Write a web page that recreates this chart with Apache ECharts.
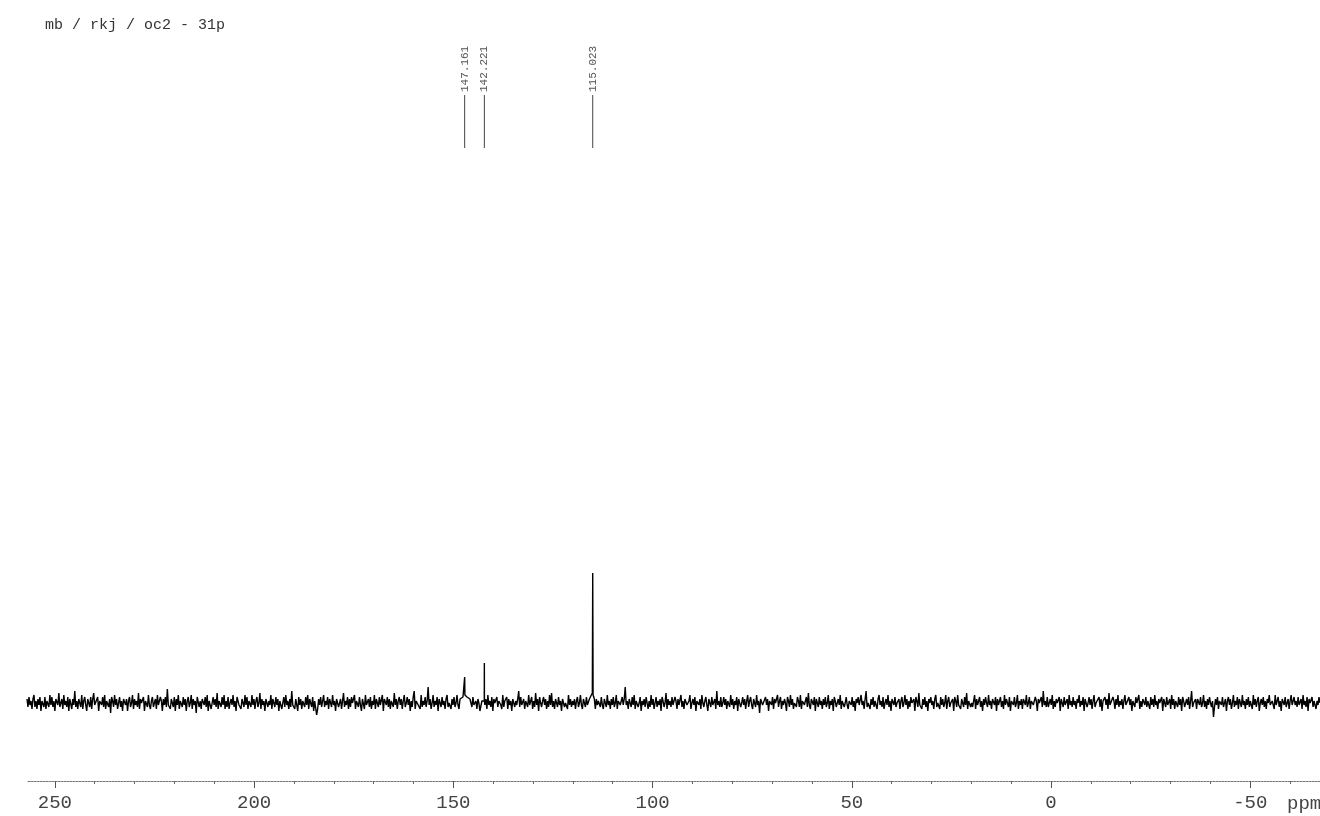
<!DOCTYPE html>
<html>
<head>
<meta charset="utf-8">
<script src="https://cdn.jsdelivr.net/npm/echarts@6/dist/echarts.min.js"></script>
<style>
html,body{margin:0;padding:0;background:#fff;}
#chart{width:1320px;height:816px;}
</style>
</head>
<body>
<div id="chart"></div>
<script>
// ---- data ----
const titleText = 'mb / rkj / oc2 - 31p';
const unitText = 'ppm';
const ppmStart = 257;      // left end of the spectrum (ppm)
const ppmEnd = -67.5;      // right end of the spectrum (ppm)
// baseline noise, read as estimates, evenly sampled from ppmStart to ppmEnd
const noise = [
 2,-2,3,-1,1,-3,2,4,-2,1,-3,2,-1,3,-4,1,2,-2,3,-3,1,0,-2,4,-1,
 3,-2,1,-4,2,3,-1,5,-2,0,2,-3,4,-1,1,-2,3,-4,2,1,-3,2,-1,6,-2,
 1,-3,2,0,-2,4,-3,1,3,-1,-4,2,1,-2,3,-3,2,5,-1,0,-2,3,-4,1,2,
 -1,3,-2,4,-3,1,0,-2,2,-5,3,1,-2,4,-1,2,-3,0,3,-2,1,-4,2,3,-1,
 2,-4,1,3,-2,0,4,-3,2,-1,1,-2,5,-3,2,0,-1,3,-4,1,2,-2,4,-1,-3,
 1,3,-2,0,2,-3,4,-1,-2,3,1,-4,2,-1,3,-2,7,-1,0,-3,2,1,-2,3,-4,
 2,-1,4,-3,1,0,-2,3,-1,2,-4,1,3,-2,0,4,-3,2,-1,1,-5,3,2,-2,1,
 -3,2,1,-1,3,-2,4,-4,1,2,-3,0,3,-1,2,-2,5,-3,1,0,-2,3,-1,4,-3,
 1,-2,3,-3,0,2,-1,4,-2,1,-4,3,2,-1,0,-3,2,1,-2,4,-1,3,-3,1,2,
 -2,4,-1,2,-3,1,3,-2,0,5,-3,2,-1,1,-4,2,3,-2,1,-1,4,-3,2,0,-2,
 3,-1,2,-4,1,2,-3,0,3,-2,4,-1,1,-3,2,-2,6,-1,0,-3,2,1,-4,3,-1,
 2,-3,1,0,-2,3,-1,4,-3,2,1,-2,3,-4,1,0,-6,-3,2,-1,3,-2,1,4,-2,
 1,-1,3,-3,2,0,-2,4,-1,1,-4,2,3,-2,0,2,-3,1,5,-2,1,-1,3,-3,2,
 -2,3,0,-1,4,-3,1,2,-2,3,-1,-4,2,1,-3,4,-1,0,2,-2,3,-3,1,-1,4,
 -3,2,1,-2,3,-1,0,4,-4,2,1,-1,3,-2,2,-3,1,0,-2,5,-1,2,-3,1,3,
 -1,2,-3,1,4,-2,0,3,-1,2,-4,1,-2,3,6,-3,1,2,-1,0,-3,4,-2,1,-1,
 3,-2,1,8,-1,2,-3,0,4,-2,1,-1,3,-4,2,0,-2,3,-1,1,-3,2,4,-2,0,
 1,-3,2,-1,3,-2,0,4,-1,-3,2,1,2,3,2,3,4,3,3,2,2,1,-2,3,-1,
 -2,1,-3,2,0,-4,-3,1,0,0,-1,2,-3,4,-1,1,-2,3,-4,2,0,-1,3,-2,1,
 2,-1,-3,4,-2,1,0,3,-3,2,-1,1,-4,2,3,-2,1,-1,2,6,-2,3,-1,0,2,
 -3,1,2,-2,4,-1,0,3,-3,1,-2,5,-1,2,-4,3,0,-2,1,3,-1,2,-3,1,-2,
 4,-1,5,-2,1,-3,2,0,-2,3,-1,1,-4,2,3,-2,0,1,-3,4,-1,2,-2,1,-1,
 2,-3,1,3,-2,0,4,-1,-3,2,1,-2,3,-1,0,2,2,3,4,3,2,-3,2,-1,1,
 1,-2,3,-1,-3,2,0,-2,4,-1,1,-3,2,-1,3,-2,0,4,-3,1,2,-1,-2,3,-1,
 2,8,-1,1,-3,2,0,-2,3,-1,4,-3,1,2,-2,0,3,-4,1,-1,2,-2,3,0,-3,
 1,-2,4,-1,2,-3,0,3,-2,1,-1,2,-4,3,1,-2,0,5,-3,2,-1,1,-2,3,-1,
 -2,3,1,-3,2,-1,0,4,-2,1,-3,2,3,-1,-2,1,4,-3,0,2,-1,3,-4,1,2,
 -1,2,-3,4,0,-2,1,3,-1,-4,2,1,-2,3,-1,0,2,-3,6,-1,1,-2,3,-2,0,
 3,-1,2,-3,1,0,-2,4,-1,2,-3,1,-1,3,-4,2,1,-2,0,3,-1,2,-3,1,4,
 -2,1,3,-1,-3,2,0,-2,4,-1,1,-5,2,3,-1,0,-2,3,-1,2,-4,1,2,-1,3,
 -3,2,0,-1,4,-2,1,3,-3,1,-1,2,0,-4,3,1,-2,4,-1,2,-3,0,1,-2,3,
 1,-2,4,-3,1,2,-1,0,3,-2,5,-1,-3,2,1,-1,3,-4,2,0,-2,3,-1,1,-3,
 2,-1,3,-2,0,4,-3,1,-1,2,-4,3,1,-2,0,2,-1,4,-3,1,2,-2,0,3,-1,
 -3,1,2,-1,3,-2,1,-4,2,0,3,-1,-2,4,-1,1,-3,2,6,-2,0,1,-3,2,-1,
 3,-2,1,0,-3,2,4,-1,1,-2,3,-3,0,2,-1,4,-2,1,-4,2,1,-1,3,-2,0,
 -1,2,-3,1,3,-2,0,4,-1,2,-3,1,-2,3,0,-1,2,-4,3,1,-2,5,-1,0,-3,
 2,-1,3,-2,1,-4,2,0,3,-1,1,-3,2,4,-2,0,1,-3,3,-1,2,-2,0,4,-3,
 1,3,-2,0,-1,2,-4,3,1,-2,4,-1,0,-3,2,1,-2,3,-1,5,-3,1,2,-2,0,
 -2,1,4,-3,2,-1,0,3,-2,1,-4,2,-1,3,0,-2,4,-1,1,-3,2,1,-1,3,-4,
 2,-1,0,3,-2,1,-3,4,-1,2,0,-2,3,-4,1,2,-1,3,-2,0,4,-3,1,-1,2,
 -3,2,1,-1,4,-2,0,3,-3,1,2,-1,-2,3,1,-4,2,0,-1,3,-2,6,-1,1,-2,
 3,-2,0,2,-1,4,-3,1,-2,2,0,-1,3,-4,2,1,-2,3,-1,0,2,-3,4,-1,1,
 -2,3,-1,1,-3,2,0,4,-2,1,-1,3,-4,2,1,-2,0,3,-1,2,-3,1,4,-2,0,
 1,-1,3,-2,2,-4,1,0,3,-1,2,-3,5,-1,0,-2,3,1,-3,2,-1,4,-2,1,-1,
 2,-3,1,4,-1,0,-2,3,-1,2,-4,1,2,-2,3,0,-1,4,-3,1,-2,2,1,-1,3,
 -2,1,0,-3,3,-1,2,-2,4,-1,1,-3,2,0,-1,3,-4,2,1,-2,3,-1,0,2,-3,
 4,-1,2,-3,1,0,-2,3,-1,2,-4,3,1,-2,0,2,-1,3,-3,1,6,-2,0,-1,2,
 -3,2,1,-1,3,-2,0,4,-2,1,-3,2,-1,3,0,-2,1,-7,-2,2,-1,3,-3,1,2,
 -1,3,-2,0,2,-4,1,3,-1,2,-3,0,4,-2,1,-1,3,-3,2,0,-2,4,-1,1,-3,
 2,-1,3,-2,1,0,-3,4,-1,2,-2,1,3,-4,0,2,-1,3,-2,1,-3,2,0,4,-1,
 -2,1,2,-3,4,-1,0,3,-2,1,-4,2,1,-1,3,-2,0,2,-3,1,4,-1,-2,3,-1,
 1,-2,3,-1,0,2,-3,4,-1,1,-2,3,-4,2,0,-1,3,-2,1,2,-3,1,-1,3,0
];
// peak shapes [ppm, intensity]
const peakPoints = [
 [147.22, 4], [147.161, 13], [147.10, 4],
 [142.24, 1], [142.221, 20], [142.20, 1],
 [115.12, 5], [115.023, 65], [114.93, 4]
];
// picked peak labels
const peakLabelPpm = [147.161, 142.221, 115.023];
const peakLabels = ['147.161', '142.221', '115.023'];
// axis ticks
const majorTicks = [250, 200, 150, 100, 50, 0, -50];
const minorTicks = [250,240,230,220,210,200,190,180,170,160,150,140,130,120,110,100,90,80,70,60,50,40,30,20,10,0,-10,-20,-30,-40,-50,-60];

// ---- build spectrum ----
const step = (ppmStart - ppmEnd) / (noise.length - 1);
const spectrum = noise.map((v, i) => [ppmStart - i * step, v])
  .concat(peakPoints.map(p => [p[0], p[1]]))
  .sort((a, b) => b[0] - a[0]);

const mono = '"Liberation Mono", "DejaVu Sans Mono", monospace';
const chart = echarts.init(document.getElementById('chart'), null, {renderer: 'canvas'});
const xBase = {
  type: 'value', min: ppmEnd, max: ppmStart, inverse: true, position: 'bottom',
  splitLine: {show: false}
};
chart.setOption({
  animation: false,
  backgroundColor: '#ffffff',
  title: [
    {text: titleText, left: 40, top: 13, textStyle: {fontFamily: mono, fontSize: 15, fontWeight: 'normal', color: '#333'}},
    {text: unitText, left: 1282, top: 789, textStyle: {fontFamily: mono, fontSize: 19, fontWeight: 'normal', color: '#444'}}
  ],
  grid: {left: 27, right: 0, top: 40, bottom: 35},
  xAxis: [
    Object.assign({}, xBase, {
      axisLine: {show: true, onZero: false, lineStyle: {color: '#777', width: 1, type: [2, 1]}},
      axisTick: {show: true, length: 3, customValues: minorTicks, lineStyle: {color: '#666'}},
      axisLabel: {show: false}
    }),
    Object.assign({}, xBase, {
      axisLine: {show: false, onZero: false},
      axisTick: {show: true, length: 7, customValues: majorTicks, lineStyle: {color: '#555'}},
      axisLabel: {show: true, customValues: majorTicks, margin: 12, fontFamily: mono, fontSize: 19, color: '#444',
        formatter: v => String(v)}
    })
  ],
  yAxis: {type: 'value', min: -39, max: 331.5, show: false, splitLine: {show: false}},
  series: [
    {
      type: 'line', data: spectrum, xAxisIndex: 0, showSymbol: false, symbol: 'none',
      sampling: null, lineStyle: {color: '#000', width: 1.4}, silent: true
    },
    {
      type: 'custom', xAxisIndex: 0, silent: true,
      data: peakLabelPpm.map(p => [p, 0]),
      renderItem: function (params, api) {
        const ppm = api.value(0);
        const top = api.coord([ppm, 304]);
        const bot = api.coord([ppm, 277.5]);
        return {
          type: 'group',
          children: [
            {type: 'line', shape: {x1: top[0], y1: top[1], x2: bot[0], y2: bot[1]}, style: {stroke: '#444', lineWidth: 1}},
            {type: 'text', x: top[0], y: top[1] - 3, rotation: Math.PI / 2,
              style: {text: peakLabels[params.dataIndex], textAlign: 'left', textVerticalAlign: 'middle',
                font: '11px ' + mono, fill: '#555'}}
          ]
        };
      }
    }
  ]
});
</script>
</body>
</html>
